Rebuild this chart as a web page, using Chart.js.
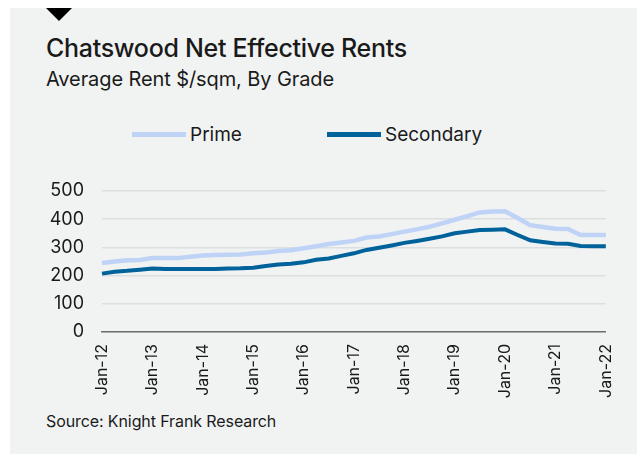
<!DOCTYPE html>
<html>
<head>
<meta charset="utf-8">
<script src="https://cdn.jsdelivr.net/npm/chart.js@4/dist/chart.umd.min.js"></script>
<style>
    html, body {
        margin: 0;
        padding: 0;
        width: 641px;
        height: 454px;
        overflow: hidden;
        background: #ffffff;
        font-family: Inter, "Noto Sans", sans-serif;
        color: #1a1a1a;
    }
    .panel {
        position: absolute;
        left: 10px;
        top: 8px;
        width: 627px;
        height: 446px;
        background: #f0f3f2;
    }
    .marker {
        position: absolute;
        left: 46px;
        top: 8px;
        width: 0;
        height: 0;
        border-left: 13px solid transparent;
        border-right: 13px solid transparent;
        border-top: 13px solid #000;
    }
    .title {
        position: absolute;
        left: 46px;
        top: 36px;
        font-size: 25px;
        font-weight: 500;
        line-height: 1;
        letter-spacing: -0.3px;
        white-space: nowrap;
    }
    .subtitle {
        position: absolute;
        left: 46px;
        top: 69px;
        font-size: 20px;
        line-height: 1;
        letter-spacing: -0.1px;
        white-space: nowrap;
    }
    .legend-item {
        position: absolute;
        top: 125px;
        height: 22px;
        font-size: 19px;
        line-height: 1;
        white-space: nowrap;
    }
    .legend-item span.swatch {
        position: absolute;
        left: 0;
        top: 7px;
        width: 54px;
        height: 5px;
    }
    .legend-item span.text {
        position: absolute;
        left: 58px;
        top: 0;
    }
    .source {
        position: absolute;
        left: 46px;
        top: 413px;
        font-size: 16px;
        line-height: 1;
        letter-spacing: -0.1px;
        white-space: nowrap;
    }
    #chartWrap {
        position: absolute;
        left: 10px;
        top: 170px;
        width: 627px;
        height: 240px;
    }
</style>
</head>
<body>
<div class="panel"></div>
<div class="marker"></div>
<div class="title">Chatswood Net Effective Rents</div>
<div class="subtitle">Average Rent $/sqm, By Grade</div>
<div id="legend"></div>
<div class="source">Source: Knight Frank Research</div>
<div id="chartWrap"><canvas id="rentChart" width="627" height="240"></canvas></div>

<script>
// Quarterly series, Jan-12 to Jan-22
const quarters = [
    'Jan-12', 'Apr-12', 'Jul-12', 'Oct-12',
    'Jan-13', 'Apr-13', 'Jul-13', 'Oct-13',
    'Jan-14', 'Apr-14', 'Jul-14', 'Oct-14',
    'Jan-15', 'Apr-15', 'Jul-15', 'Oct-15',
    'Jan-16', 'Apr-16', 'Jul-16', 'Oct-16',
    'Jan-17', 'Apr-17', 'Jul-17', 'Oct-17',
    'Jan-18', 'Apr-18', 'Jul-18', 'Oct-18',
    'Jan-19', 'Apr-19', 'Jul-19', 'Oct-19',
    'Jan-20', 'Apr-20', 'Jul-20', 'Oct-20',
    'Jan-21', 'Apr-21', 'Jul-21', 'Oct-21',
    'Jan-22'
];

const primeRents = [
    245, 250, 254, 255,
    262, 262, 262, 267,
    271, 273, 274, 275,
    279, 282, 287, 290,
    297, 304, 312, 317,
    323, 335, 339, 347,
    356, 364, 373, 385,
    398, 411, 424, 427,
    428, 404, 379, 372,
    366, 365, 344, 344,
    344
];

const secondaryRents = [
    207, 214, 217, 221,
    225, 223, 223, 223,
    223, 223, 225, 226,
    228, 234, 239, 242,
    247, 256, 261, 270,
    279, 291, 299, 307,
    316, 323, 331, 339,
    350, 356, 362, 363,
    364, 344, 325, 319,
    314, 313, 305, 304,
    304
];

const yTicks = [0, 100, 200, 300, 400, 500];

const seriesNames = ['Prime', 'Secondary'];
const seriesColors = ['#bfd3f6', '#00629b'];

document.addEventListener('DOMContentLoaded', () => {
    const FONT = 'Inter, "Noto Sans", sans-serif';

    // Legend drawn as HTML so the item spacing matches the original
    const buildLegend = () => {
        const legend = document.getElementById('legend');
        const lefts = [132, 327];
        seriesNames.forEach((name, i) => {
            const item = document.createElement('div');
            item.className = 'legend-item';
            item.style.left = lefts[i] + 'px';
            item.innerHTML = `<span class="swatch" style="background:${seriesColors[i]}"></span><span class="text">${name}</span>`;
            legend.appendChild(item);
        });
    };

    const setupChart = () => {
        const ctx = document.getElementById('rentChart').getContext('2d');

        new Chart(ctx, {
            type: 'line',
            data: {
                labels: quarters,
                datasets: [
                    {
                        label: seriesNames[0],
                        data: primeRents,
                        borderColor: seriesColors[0],
                        borderWidth: 4.5,
                        pointRadius: 0,
                        tension: 0,
                        fill: false
                    },
                    {
                        label: seriesNames[1],
                        data: secondaryRents,
                        borderColor: seriesColors[1],
                        borderWidth: 4,
                        pointRadius: 0,
                        tension: 0,
                        fill: false
                    }
                ]
            },
            options: {
                responsive: false,
                animation: false,
                layout: {
                    padding: { top: 21, right: 28, bottom: 0, left: 0 }
                },
                plugins: {
                    legend: { display: false },
                    tooltip: { enabled: false }
                },
                scales: {
                    x: {
                        grid: { display: false, drawTicks: false },
                        border: { display: true, color: '#6e6e6e', width: 1.5 },
                        ticks: {
                            autoSkip: false,
                            minRotation: 90,
                            maxRotation: 90,
                            padding: 12,
                            color: '#1a1a1a',
                            font: { family: FONT, size: 16 },
                            callback: (value, index) => (index % 4 === 0 ? quarters[index] : '')
                        },
                        afterFit: (scale) => { scale.height = 78; }
                    },
                    y: {
                        min: 0,
                        max: 500,
                        afterBuildTicks: (scale) => {
                            scale.ticks = yTicks.map(v => ({ value: v }));
                        },
                        // invisible tick marks keep the labels 18px off the plot
                        // without tick padding inflating the top margin
                        grid: { color: '#dcdfdf', lineWidth: 1.5, drawTicks: true, tickLength: 18, tickColor: 'rgba(0,0,0,0)' },
                        border: { display: false },
                        ticks: {
                            padding: 0,
                            color: '#1a1a1a',
                            font: { family: FONT, size: 18 }
                        },
                        afterFit: (scale) => { scale.width = 92; }
                    }
                }
            }
        });
    };

    buildLegend();
    setupChart();
});
</script>
</body>
</html>
